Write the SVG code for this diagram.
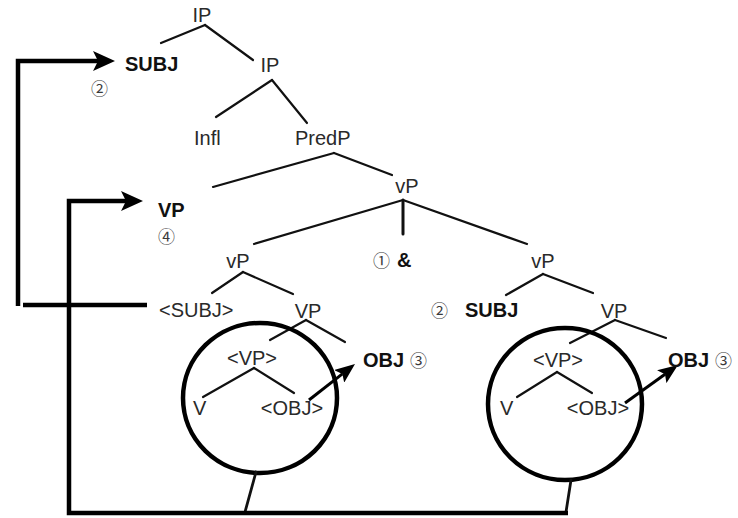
<svg xmlns="http://www.w3.org/2000/svg" width="738" height="518" viewBox="0 0 738 518">
<style>
  .t { font-family: "Liberation Sans", Arial, sans-serif; font-size: 20px; fill: #2a2a2a; }
  .b { font-family: "Liberation Sans", Arial, sans-serif; font-size: 20px; font-weight: bold; fill: #111; }
  .n { font-family: "Noto Sans CJK JP", "DejaVu Sans", sans-serif; font-size: 17px; fill: #3a3a3a; }
  .m { text-anchor: middle; }
  .e { stroke: #111; stroke-width: 2.2; fill: none; stroke-linecap: round; }
  .thick { stroke: #000; stroke-width: 4.5; fill: none; }
  .circ { stroke: #000; stroke-width: 4.5; fill: none; }
  .arr { stroke: #000; stroke-width: 3; fill: none; }
</style>
<defs>
  <marker id="bigHead" markerUnits="userSpaceOnUse" markerWidth="22" markerHeight="20" refX="5" refY="10" orient="auto">
    <path d="M0,0 L22,10 L0,20 L5,10 Z" fill="#000"/>
  </marker>
  <marker id="smallHead" markerUnits="userSpaceOnUse" markerWidth="20" markerHeight="16" refX="4" refY="8" orient="auto">
    <path d="M0,0 L20,8 L0,16 L4,8 Z" fill="#000"/>
  </marker>
</defs>

<g id="connectors">
  <!-- tree edges -->
  <line class="e" x1="205" y1="25" x2="161" y2="43"/>
  <line class="e" x1="205" y1="25" x2="253" y2="60"/>
  <line class="e" x1="272" y1="80" x2="216" y2="117"/>
  <line class="e" x1="272" y1="80" x2="307" y2="123"/>
  <line class="e" x1="334" y1="153" x2="213" y2="187"/>
  <line class="e" x1="334" y1="153" x2="392" y2="175"/>
  <line class="e" x1="403" y1="200" x2="254" y2="244"/>
  <line class="e" x1="403" y1="200" x2="403" y2="234" style="stroke-width:3"/>
  <line class="e" x1="403" y1="200" x2="527" y2="244"/>
  <line class="e" x1="243" y1="272" x2="212" y2="293"/>
  <line class="e" x1="243" y1="272" x2="293" y2="294"/>
  <line class="e" x1="543" y1="274" x2="506" y2="295"/>
  <line class="e" x1="543" y1="274" x2="593" y2="293"/>
  <line class="e" x1="306" y1="320" x2="270" y2="340"/>
  <line class="e" x1="306" y1="320" x2="345" y2="342"/>
  <line class="e" x1="615" y1="320" x2="570" y2="343"/>
  <line class="e" x1="615" y1="320" x2="666" y2="338"/>
  <line class="e" x1="254" y1="368" x2="203" y2="397"/>
  <line class="e" x1="254" y1="368" x2="294" y2="393"/>
  <line class="e" x1="557" y1="372" x2="517" y2="397"/>
  <line class="e" x1="557" y1="372" x2="592" y2="393"/>
  <!-- circles -->
  <ellipse class="circ" cx="260" cy="398" rx="77" ry="75"/>
  <ellipse class="circ" cx="565" cy="404" rx="77" ry="76"/>
  <line class="e" x1="256" y1="472" x2="245" y2="512" style="stroke-width:2.8"/>
  <line class="e" x1="571" y1="480" x2="566" y2="512" style="stroke-width:2.8"/>
  <!-- movement arrows -->
  <polyline class="thick" points="18,306 18,61 98,61" marker-end="url(#bigHead)"/>
  <line class="thick" x1="23" y1="305" x2="147" y2="305"/>
  <polyline class="thick" points="568,513 69,513 69,201 126,201" marker-end="url(#bigHead)"/>
  <line class="arr" x1="309" y1="400" x2="342.4" y2="373.9" marker-end="url(#smallHead)"/>
  <line class="arr" x1="625" y1="403" x2="665" y2="374.3" marker-end="url(#smallHead)"/>
</g>

<g id="ip-top"><text class="t m" x="202" y="22">IP</text></g>
<g id="subj-moved"><text class="b" x="125" y="71">SUBJ</text><text class="n" x="91" y="95">②</text></g>
<g id="ip"><text class="t m" x="270" y="72">IP</text></g>
<g id="infl"><text class="t" x="194" y="145">Infl</text></g>
<g id="predp"><text class="t" x="295" y="145">PredP</text></g>
<g id="vp-moved"><text class="b" x="158" y="217">VP</text><text class="n" x="158" y="243">④</text></g>
<g id="vp-top"><text class="t m" x="407" y="193">vP</text></g>
<g id="conj"><text class="n" x="373" y="267">①</text><text class="b" x="397" y="267">&amp;</text></g>
<g id="vp-left"><text class="t m" x="238" y="268">vP</text></g>
<g id="vp-right"><text class="t m" x="543" y="268">vP</text></g>
<g id="subj-trace"><text class="t" x="159" y="317">&lt;SUBJ&gt;</text></g>
<g id="VP-left"><text class="t m" x="308" y="318">VP</text></g>
<g id="subj-right"><text class="n" x="431" y="317">②</text><text class="b" x="465" y="317">SUBJ</text></g>
<g id="VP-right"><text class="t m" x="614" y="318">VP</text></g>
<g id="vptrace-left"><text class="t m" x="252" y="365">&lt;VP&gt;</text></g>
<g id="v-left"><text class="t" x="193" y="415">V</text></g>
<g id="objtrace-left"><text class="t m" x="292" y="415">&lt;OBJ&gt;</text></g>
<g id="obj-left"><text class="b" x="363" y="367">OBJ</text><text class="n" x="410" y="367">③</text></g>
<g id="vptrace-right"><text class="t m" x="558" y="367">&lt;VP&gt;</text></g>
<g id="v-right"><text class="t" x="500" y="415">V</text></g>
<g id="objtrace-right"><text class="t m" x="598" y="415">&lt;OBJ&gt;</text></g>
<g id="obj-right"><text class="b" x="668" y="367">OBJ</text><text class="n" x="715" y="367">③</text></g>
</svg>
